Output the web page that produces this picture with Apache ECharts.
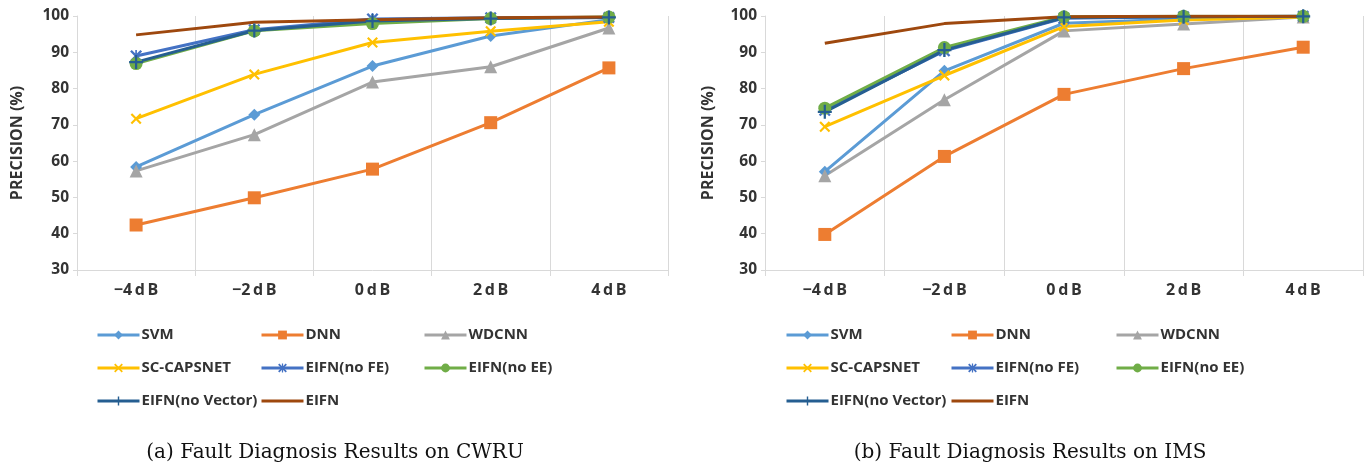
<!DOCTYPE html>
<html>
<head>
<meta charset="utf-8">
<script src="https://cdn.jsdelivr.net/npm/echarts@6/dist/echarts.min.js"></script>
<style>
html,body{margin:0;padding:0;background:#fff;}
#chart{width:1370px;height:470px;}
</style>
</head>
<body>
<div id="chart"></div>
<script>
// ---- Data ----
const categories = ['\u22124\u2009d\u2009B', '\u22122\u2009d\u2009B', '0\u2009d\u2009B', '2\u2009d\u2009B', '4\u2009d\u2009B'];
const seriesNames = ['SVM', 'DNN', 'WDCNN', 'SC-CAPSNET', 'EIFN(no FE)', 'EIFN(no EE)', 'EIFN(no Vector)', 'EIFN'];
const yTicks = [30, 40, 50, 60, 70, 80, 90, 100];
const yAxisTitle = 'PRECISION (%)';
const captionA = '(a) Fault Diagnosis Results on CWRU';
const captionB = '(b) Fault Diagnosis Results on IMS';

// CWRU
const svmA   = [58.4, 72.8, 86.2, 94.5, 99.0];
const dnnA   = [42.4, 49.9, 57.8, 70.6, 85.7];
const wdcnnA = [57.3, 67.3, 81.8, 86.0, 96.7];
const scA    = [71.7, 83.9, 92.7, 95.8, 98.4];
const noFeA  = [89.0, 96.2, 99.2, 99.5, 99.6];
const noEeA  = [86.9, 95.9, 97.9, 99.3, 99.7];
const noVecA = [87.3, 96.0, 98.6, 99.3, 99.6];
const eifnA  = [94.8, 98.3, 99.0, 99.5, 99.7];

// IMS
const svmB   = [57.1, 84.9, 98.0, 99.2, 99.8];
const dnnB   = [39.8, 61.3, 78.4, 85.5, 91.4];
const wdcnnB = [56.0, 76.9, 95.9, 97.8, 99.7];
const scB    = [69.5, 83.6, 97.1, 98.9, 99.7];
const noFeB  = [74.0, 90.4, 99.4, 99.8, 99.9];
const noEeB  = [74.6, 91.3, 99.8, 99.9, 99.9];
const noVecB = [73.6, 90.6, 99.6, 99.8, 99.9];
const eifnB  = [92.5, 97.9, 99.8, 99.9, 99.9];

const dataA = [svmA, dnnA, wdcnnA, scA, noFeA, noEeA, noVecA, eifnA];
const dataB = [svmB, dnnB, wdcnnB, scB, noFeB, noEeB, noVecB, eifnB];

// ---- Styles ----
const colors = ['#5B9BD5', '#ED7D31', '#A5A5A5', '#FFC000', '#4472C4', '#70AD47', '#255E91', '#9E480E'];
const xPath = 'path://M0,1.4L1.4,0L5,3.6L8.6,0L10,1.4L6.4,5L10,8.6L8.6,10L5,6.4L1.4,10L0,8.6L3.6,5Z';
const starPath = 'path://M0,1.4L1.4,0L5,3.6L8.6,0L10,1.4L6.4,5L10,8.6L8.6,10L5,6.4L1.4,10L0,8.6L3.6,5Z M4.3,0L5.7,0L5.7,10L4.3,10Z';
const plusPath = 'path://M4.2,0L5.8,0L5.8,4.2L10,4.2L10,5.8L5.8,5.8L5.8,10L4.2,10L4.2,5.8L0,5.8L0,4.2L4.2,4.2Z';
const symbols = ['diamond', 'rect', 'triangle', xPath, starPath, 'circle', plusPath, 'none'];
const symbolSizes = [12, 13, 13, 11, 12, 13, 14, 0];

const labelFont = '"Open Sans", "DejaVu Sans", sans-serif';
const textColor = '#333333';
const gridColor = '#d9d9d9';

function makeX(gridIndex) {
  return {
    type: 'category', gridIndex: gridIndex, data: categories, boundaryGap: true,
    axisLine: { show: true, lineStyle: { color: gridColor, width: 1 } },
    axisTick: { show: true, length: 6, lineStyle: { color: gridColor } },
    splitLine: { show: true, lineStyle: { color: ['rgba(0,0,0,0)', gridColor, gridColor, gridColor, gridColor, gridColor], width: 1 } },
    axisLabel: { color: textColor, fontFamily: labelFont, fontWeight: 'bold', fontSize: 16, margin: 12 }
  };
}
function makeY(gridIndex, gap) {
  return {
    type: 'value', gridIndex: gridIndex, min: yTicks[0], max: yTicks[yTicks.length - 1], interval: 10,
    name: yAxisTitle, nameLocation: 'middle', nameGap: gap, nameRotate: 90,
    nameTextStyle: { color: textColor, fontFamily: labelFont, fontWeight: 'bold', fontSize: 16 },
    axisLine: { show: true, lineStyle: { color: gridColor, width: 1 } },
    axisTick: { show: true, length: 4, lineStyle: { color: gridColor } },
    splitLine: { show: false },
    axisLabel: { color: textColor, fontFamily: labelFont, fontWeight: 'bold', fontSize: 15.5, margin: 8 }
  };
}

const series = [];
[dataA, dataB].forEach(function (set, gi) {
  set.forEach(function (vals, i) {
    series.push({
      name: seriesNames[i], type: 'line', xAxisIndex: gi, yAxisIndex: gi,
      data: vals, symbol: symbols[i], symbolSize: symbolSizes[i], showSymbol: symbols[i] !== 'none',
      lineStyle: { color: colors[i], width: 3 },
      itemStyle: { color: colors[i] },
      emphasis: { disabled: true }, animation: false
    });
  });
});

// Legend layout: 3 columns, 3 rows
const legendCols = [[96, 260, 423], [785, 950, 1115]];
const legendRows = [333, 366, 399];
const legendItemH = 11;
const legends = [];
legendCols.forEach(function (cols) {
  seriesNames.forEach(function (n, i) {
    const r = Math.floor(i / 3), c = i % 3;
    const item = symbols[i] === 'none'
      ? { name: n, itemStyle: { color: 'rgba(0,0,0,0)', borderWidth: 0 } }
      : { name: n };
    legends.push({
      data: [item], left: cols[c], top: legendRows[r] - legendItemH / 2,
      padding: 0, itemWidth: 42, itemHeight: legendItemH, itemGap: 0,
      lineStyle: { width: 3 },
      textStyle: { color: textColor, fontFamily: labelFont, fontWeight: 'bold', fontSize: 15, padding: [0, 0, 0, -3] },
      selectedMode: false
    });
  });
});

const chart = echarts.init(document.getElementById('chart'), null, { renderer: 'canvas' });
chart.setOption({
  backgroundColor: '#ffffff',
  animation: false,
  grid: [
    { left: 77, right: 702, top: 16, bottom: 200, containLabel: false },
    { left: 765, right: 7, top: 16, bottom: 200, containLabel: false }
  ],
  xAxis: [makeX(0), makeX(1)],
  yAxis: [makeY(0, 52), makeY(1, 49)],
  legend: legends,
  series: series,
  graphic: [
    { type: 'text', x: 335, y: 453, style: { text: captionA, fill: '#111', font: '20px "DejaVu Serif", serif', textAlign: 'center', textVerticalAlign: 'middle' } },
    { type: 'text', x: 1030, y: 453, style: { text: captionB, fill: '#111', font: '20px "DejaVu Serif", serif', textAlign: 'center', textVerticalAlign: 'middle' } }
  ]
});
</script>
</body>
</html>
